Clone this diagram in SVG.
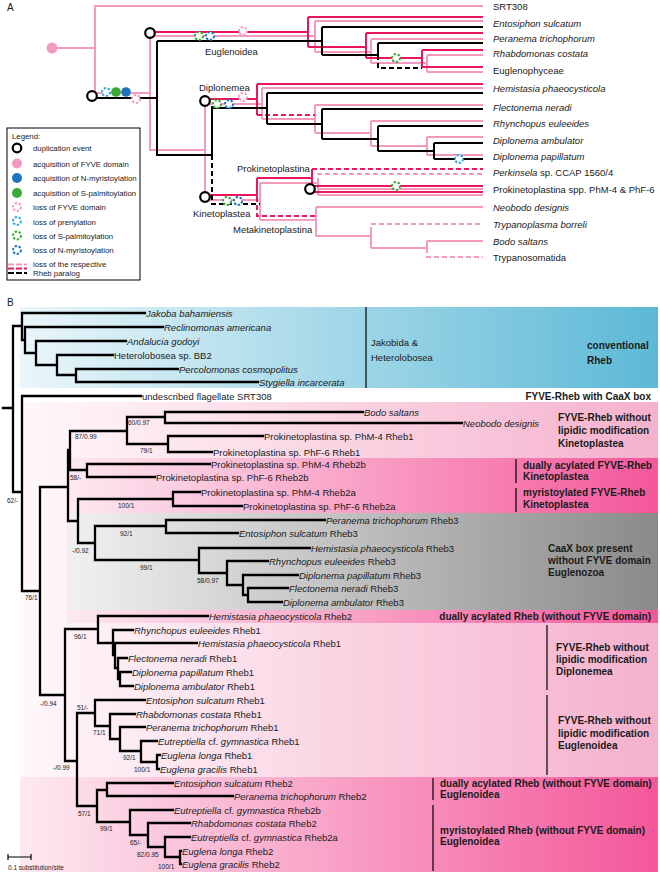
<svg xmlns="http://www.w3.org/2000/svg" width="660" height="876" viewBox="0 0 660 876">
<style>
text{font-family:"Liberation Sans",Arial,sans-serif;fill:#1a1a1a}
.lab{font-size:9.5px}
.i{font-style:italic}
.bs{font-size:6.5px}
.bold{font-size:10px;font-weight:bold}
.leg{font-size:7.8px}
.p{fill:none;stroke:#f49ac1;stroke-width:2}
.m{fill:none;stroke:#e8175d;stroke-width:2}
.k{fill:none;stroke:#000;stroke-width:2}
.d{stroke-dasharray:5 3}
.t{fill:none;stroke:#000;stroke-width:2.3;stroke-linecap:square}
.dup{fill:#fff;stroke:#000;stroke-width:2.2}
.ring{fill:#fff;stroke-width:2;stroke-dasharray:2.4 1.6}
.rp{stroke:#f49ac1}.rg{stroke:#3aaa35}.rb{stroke:#1c75bc}.rl{stroke:#29abe2}
.sep{stroke:#000;stroke-width:1.2}
</style>
<defs>
<linearGradient id="gBlue" x1="0" x2="1"><stop offset="0" stop-color="#eaf6fa"/><stop offset="1" stop-color="#5cb9d6"/></linearGradient>
<linearGradient id="gPinkL" x1="0" x2="1"><stop offset="0" stop-color="#fff8fb"/><stop offset="1" stop-color="#f5b1cc"/></linearGradient>
<linearGradient id="gPinkM" x1="0" x2="1"><stop offset="0" stop-color="#fde9f1"/><stop offset="1" stop-color="#f4579a"/></linearGradient>
<linearGradient id="gGrey" x1="0" x2="1"><stop offset="0" stop-color="#f1f1f1"/><stop offset="1" stop-color="#8a8a8a"/></linearGradient>
</defs>
<rect width="660" height="876" fill="#fff"/>

<!-- ================= PANEL A ================= -->
<g id="panelA">
<text x="7" y="11" style="font-size:10px">A</text>
<g id="connectorsA">
<!-- pink lineage (FYVE-Rheb) -->
<path class="p" d="M483,6 H95 V93 H150 M52,48 H95"/>
<path class="p" d="M150,36 V150 H205 M150,36 H315 M315,21 V52 M315,21 H483 M315,52 H371 M371,39 V63 M371,39 H483 M371,63 H427 M427,55 V72 M427,55 H483 M427,72 H483"/>
<path class="p" d="M205,101 V197 M205,104 H262 M262,88 V119 M262,88 H483 M262,119 H315 M315,105 V133 M315,105 H483 M315,133 H371 M371,121 V146 M371,121 H483 M371,146 H427 M427,137 V155 M427,137 H483 M427,155 H483"/>
<path class="p" d="M205,200 H260 M260,183 V220 M260,183 H318 V195 M318,195 H483 M318,189 H483 M260,220 H316 M316,207 V236 M316,207 H483 M316,236 H371 M371,232 V248 M371,248 H427 M427,241 V248 M427,241 H483"/>
<path class="p d" d="M318,183 V174 H483 M371,232 V224 H483 M427,248 V257 H483"/>
<!-- magenta lineage (Rheb2) -->
<path class="m" d="M150,32 H308 M308,17 V47 M308,17 H483 M308,47 H366 M366,33 V58 M366,33 H483 M366,58 H422 M422,50 V67 M422,50 H483 M422,67 H483"/>
<path class="m" d="M205,99 H257 M257,84 V115 M257,84 H483"/>
<path class="m d" d="M257,115 H315"/>
<path class="m" d="M205,195 H257 M257,178 V197 M257,178 H312 M312,169 V192 M312,186 H483 M312,192 H483"/>
<path class="m d" d="M257,197 V216 H315 M312,169 H483"/>
<!-- black lineage (Rheb3) -->
<path class="k" d="M97,98 H157 M157,41 V155 H212 M157,41 H322 M322,27 V55 M322,27 H483 M322,55 H378 M378,43 V55 M378,43 H483"/>
<path class="k d" d="M378,55 V68 H422"/>
<path class="k" d="M212,106 V155 M212,108 H267 M267,93 V124 M267,93 H483 M267,124 H322 M322,109 V139 M322,109 H483 M322,139 H378 M378,126 V151 M378,126 H483 M378,151 H434 M434,143 V159 M434,143 H483 M434,159 H483"/>
<path class="k d" d="M212,155 V204 H260"/>
</g>
<g id="eventsA">
<circle class="dup" cx="92" cy="96" r="4.8"/>
<circle class="dup" cx="150" cy="33" r="4.8"/>
<circle class="dup" cx="205" cy="101" r="4.8"/>
<circle class="dup" cx="205" cy="197" r="4.8"/>
<circle class="dup" cx="310" cy="189" r="4.8"/>
<circle cx="52" cy="48" r="5.5" fill="#f49ac1"/>
<circle class="ring rl" cx="106" cy="92" r="4"/>
<circle cx="116" cy="92" r="4.8" fill="#3aaa35"/>
<circle cx="126" cy="92" r="4.8" fill="#1c75bc"/>
<circle class="ring rp" cx="136" cy="99" r="4"/>
<circle class="ring rg" cx="199" cy="36" r="4"/>
<circle class="ring rb" cx="210" cy="36" r="4"/>
<circle class="ring rp" cx="243" cy="31" r="4"/>
<circle class="ring rg" cx="396" cy="58" r="4"/>
<circle class="ring rg" cx="217" cy="104" r="4"/>
<circle class="ring rb" cx="229" cy="104" r="4"/>
<circle class="ring rp" cx="243" cy="97" r="4"/>
<circle class="ring rl" cx="459" cy="159" r="4"/>
<circle class="ring rg" cx="227" cy="201" r="4"/>
<circle class="ring rb" cx="238" cy="201" r="4"/>
<circle class="ring rg" cx="396" cy="186" r="4"/>
</g>
<g id="cladesA">
<text class="lab" x="205" y="55">Euglenoidea</text>
<text class="lab" x="199" y="91">Diplonemea</text>
<text class="lab" x="237" y="172">Prokinetoplastina</text>
<text class="lab" x="193" y="217">Kinetoplastea</text>
<text class="lab" x="233" y="233">Metakinetoplastina</text>
</g>
<g id="taxaA">
<text class="lab" x="493" y="9.5">SRT308</text>
<text class="lab i" x="493" y="26.5">Entosiphon sulcatum</text>
<text class="lab i" x="493" y="41.5">Peranema trichophorum</text>
<text class="lab i" x="493" y="56.5">Rhabdomonas costata</text>
<text class="lab" x="493" y="73.5">Euglenophyceae</text>
<text class="lab i" x="493" y="91.5">Hemistasia phaeocysticola</text>
<text class="lab i" x="493" y="110.5">Flectonema neradi</text>
<text class="lab i" x="493" y="126.5">Rhynchopus euleeides</text>
<text class="lab i" x="493" y="143.5">Diplonema ambulator</text>
<text class="lab i" x="493" y="159.5">Diplonema papillatum</text>
<text class="lab" x="493" y="175.5"><tspan class="i">Perkinsela</tspan>  sp. CCAP 1560/4</text>
<text class="lab" x="493" y="192.5">Prokinetoplastina spp. PhM-4 &amp; PhF-6</text>
<text class="lab i" x="493" y="210.5">Neobodo designis</text>
<text class="lab i" x="493" y="227.5">Trypanoplasma borreli</text>
<text class="lab i" x="493" y="244.5">Bodo saltans</text>
<text class="lab" x="493" y="260.5">Trypanosomatida</text>
</g>
<g id="legend">
<rect x="7" y="128" width="133" height="152" fill="#fff" stroke="#000" stroke-width="1"/>
<text class="leg" x="12" y="139">Legend:</text>
<circle class="dup" cx="17" cy="148" r="4.3"/>
<circle cx="17" cy="163.5" r="5" fill="#f49ac1"/>
<circle cx="17" cy="178" r="5" fill="#1c75bc"/>
<circle cx="17" cy="193" r="5" fill="#3aaa35"/>
<circle class="ring rp" cx="17" cy="207" r="4"/>
<circle class="ring rl" cx="17" cy="221" r="4"/>
<circle class="ring rg" cx="17" cy="235.5" r="4"/>
<circle class="ring rb" cx="17" cy="250" r="4"/>
<path class="p" d="M8,264.5 H27" stroke-dasharray="6 2"/>
<path class="m" d="M8,268.5 H27" stroke-dasharray="6 2"/>
<path class="k" d="M8,273 H27" stroke-dasharray="6 2"/>
<text class="leg" x="33" y="151">duplication event</text>
<text class="leg" x="33" y="166.5">acquisition of FYVE domain</text>
<text class="leg" x="33" y="181">acquisition of N-myristoylation</text>
<text class="leg" x="33" y="196">acquisition of S-palmitoylation</text>
<text class="leg" x="33" y="210">loss of FYVE domain</text>
<text class="leg" x="33" y="224.5">loss of prenylation</text>
<text class="leg" x="33" y="239">loss of S-palmitoylation</text>
<text class="leg" x="33" y="253">loss of N-myristoylation</text>
<text class="leg" x="33" y="267">loss of the respective</text>
<text class="leg" x="33" y="276">Rheb paralog</text>
</g>
</g>

<!-- ================= PANEL B ================= -->
<g id="panelB">
<text x="7" y="306" style="font-size:10px">B</text>
<g id="backgrounds">
<rect x="20" y="307" width="638" height="81" fill="url(#gBlue)"/>
<rect x="20" y="402" width="638" height="470" fill="url(#gPinkL)"/>
<rect x="67" y="458" width="591" height="55" fill="url(#gPinkM)"/>
<rect x="67" y="513" width="591" height="97" fill="url(#gGrey)"/>
<rect x="67" y="610" width="591" height="13" fill="url(#gPinkM)"/>
<rect x="20" y="777" width="638" height="95" fill="url(#gPinkM)"/>
</g>
<g id="tree">
<path class="t" d="M3,408 H13 M13,326 V492 M13,326 H22 M13,492 H22
M22,313 V340 M22,313 H145 M22,340 H25 M25,327 V353 M25,327 H163 M25,353 H36 M36,341 V365 M36,341 H126 M36,365 H57 M57,355 V375 M57,355 H113 M57,375 H76 M76,369 V382 M76,369 H178 M76,382 H258
M22,396 V591 M22,396 H141 M22,591 H40
M40,487 V695 M40,487 H68 M40,695 H65
M68,450 V521 M68,450 H70 M68,521 H78
M70,431 V470 M70,431 H127 M70,470 H87
M127,417 V444 M127,417 H165 M127,444 H168
M165,412 V423 M165,412 H363 M165,423 H462
M168,436 V452 M168,436 H263 M168,452 H212
M87,464 V477 M87,464 H210 M87,477 H155
M78,499 V543 M78,499 H173 M78,543 H95
M173,492 V506 M173,492 H200 M173,506 H242
M95,526 V560 M95,526 H166 M95,560 H199
M166,520 V533 M166,520 H325 M166,533 H238
M199,548 V573 M199,548 H310 M199,573 H227
M227,561 V585 M227,561 H268 M227,585 H243
M243,575 V595 M243,575 H298 M243,595 H248
M248,588 V602 M248,588 H288 M248,602 H282
M65,629 V761 M65,629 H98 M65,761 H77
M98,616 V643 M98,616 H208 M98,643 H113
M113,630 V655 M113,630 H133 M113,655 H115
M115,643 V668 M115,643 H197 M115,668 H118
M118,658 V679 M118,658 H127 M118,679 H120
M120,672 V686 M120,672 H131 M120,686 H133
M77,713 V806 M77,713 H95 M77,806 H97
M95,700 V726 M95,700 H145 M95,726 H110
M110,714 V739 M110,714 H135 M110,739 H120
M120,727 V751 M120,727 H145 M120,751 H141
M141,741 V762 M141,741 H157 M141,762 H157
M157,755 V769 M157,755 H160 M157,769 H159
M97,790 V822 M97,790 H107 M97,822 H130
M107,783 V796 M107,783 H173 M107,796 H233
M130,810 V835 M130,810 H173 M130,835 H148
M148,823 V847 M148,823 H190 M148,847 H165
M165,837 V857 M165,837 H190 M165,857 H180
M180,851 V864 M180,851 H181 M180,864 H181"/>
</g>
<g id="leavesB">
<text class="lab i" x="146" y="316.5">Jakoba bahamiensis</text>
<text class="lab i" x="164" y="330.5">Reclinomonas americana</text>
<text class="lab i" x="127" y="344.5">Andalucia godoyi</text>
<text class="lab" x="114" y="358.5">Heterolobosea sp. BB2</text>
<text class="lab i" x="179" y="372.5">Percolomonas cosmopolitus</text>
<text class="lab i" x="259" y="385.5">Stygiella incarcerata</text>
<text class="lab" x="142" y="399.5">undescribed flagellate SRT308</text>
<text class="lab i" x="364" y="415.5">Bodo saltans</text>
<text class="lab i" x="463" y="426.5">Neobodo designis</text>
<text class="lab" x="264" y="439.5">Prokinetoplastina sp. PhM-4 Rheb1</text>
<text class="lab" x="213" y="455.5">Prokinetoplastina sp. PhF-6 Rheb1</text>
<text class="lab" x="211" y="467.5">Prokinetoplastina sp. PhM-4 Rheb2b</text>
<text class="lab" x="156" y="480.5">Prokinetoplastina sp. PhF-6 Rheb2b</text>
<text class="lab" x="201" y="495.5">Prokinetoplastina sp. PhM-4 Rheb2a</text>
<text class="lab" x="243" y="509.5">Prokinetoplastina sp. PhF-6 Rheb2a</text>
<text class="lab" x="326" y="523.5"><tspan class="i">Peranema trichophorum</tspan> Rheb3</text>
<text class="lab" x="239" y="536.5"><tspan class="i">Entosiphon sulcatum</tspan> Rheb3</text>
<text class="lab" x="311" y="551.5"><tspan class="i">Hemistasia phaeocysticola</tspan> Rheb3</text>
<text class="lab" x="269" y="564.5"><tspan class="i">Rhynchopus euleeides</tspan> Rheb3</text>
<text class="lab" x="299" y="578.5"><tspan class="i">Diplonema papillatum</tspan> Rheb3</text>
<text class="lab" x="289" y="591.5"><tspan class="i">Flectonema neradi</tspan> Rheb3</text>
<text class="lab" x="283" y="605.5"><tspan class="i">Diplonema ambulator</tspan> Rheb3</text>
<text class="lab" x="209" y="619.5"><tspan class="i">Hemistasia phaeocysticola</tspan> Rheb2</text>
<text class="lab" x="134" y="633.5"><tspan class="i">Rhynchopus euleeides</tspan> Rheb1</text>
<text class="lab" x="198" y="646.5"><tspan class="i">Hemistasia phaeocysticola</tspan> Rheb1</text>
<text class="lab" x="128" y="661.5"><tspan class="i">Flectonema neradi</tspan> Rheb1</text>
<text class="lab" x="132" y="675.5"><tspan class="i">Diplonema papillatum</tspan> Rheb1</text>
<text class="lab" x="134" y="689.5"><tspan class="i">Diplonema ambulator</tspan> Rheb1</text>
<text class="lab" x="146" y="703.5"><tspan class="i">Entosiphon sulcatum</tspan> Rheb1</text>
<text class="lab" x="136" y="717.5"><tspan class="i">Rhabdomonas costata</tspan> Rheb1</text>
<text class="lab" x="146" y="730.5"><tspan class="i">Peranema trichophorum</tspan> Rheb1</text>
<text class="lab" x="158" y="744.5"><tspan class="i">Eutreptiella</tspan> cf. <tspan class="i">gymnastica</tspan> Rheb1</text>
<text class="lab" x="161" y="758.5"><tspan class="i">Euglena longa</tspan> Rheb1</text>
<text class="lab" x="160" y="772.5"><tspan class="i">Euglena gracilis</tspan> Rheb1</text>
<text class="lab" x="174" y="786.5"><tspan class="i">Entosiphon sulcatum</tspan> Rheb2</text>
<text class="lab" x="234" y="799.5"><tspan class="i">Peranema trichophorum</tspan> Rheb2</text>
<text class="lab" x="174" y="813.5"><tspan class="i">Eutreptiella</tspan> cf. <tspan class="i">gymnastica</tspan> Rheb2b</text>
<text class="lab" x="191" y="826.5"><tspan class="i">Rhabdomonas costata</tspan> Rheb2</text>
<text class="lab" x="191" y="840.5"><tspan class="i">Eutreptiella</tspan> cf. <tspan class="i">gymnastica</tspan> Rheb2a</text>
<text class="lab" x="182" y="854.5"><tspan class="i">Euglena longa</tspan> Rheb2</text>
<text class="lab" x="182" y="867.5"><tspan class="i">Euglena gracilis</tspan> Rheb2</text>
</g>
<g id="supportB">
<text class="bs" x="7" y="503">62/-</text>
<text class="bs" x="25" y="600">76/1</text>
<text class="bs" x="75" y="439">87/0.99</text>
<text class="bs" x="128" y="425">60/0.97</text>
<text class="bs" x="140" y="453">79/1</text>
<text class="bs" x="70" y="480">58/-</text>
<text class="bs" x="118" y="508">100/1</text>
<text class="bs" x="120" y="536">92/1</text>
<text class="bs" x="72" y="553">-/0.92</text>
<text class="bs" x="140" y="570">99/1</text>
<text class="bs" x="197" y="583">58/0.97</text>
<text class="bs" x="74" y="639">96/1</text>
<text class="bs" x="40" y="706">-/0.94</text>
<text class="bs" x="77" y="710">51/-</text>
<text class="bs" x="93" y="735">71/1</text>
<text class="bs" x="123" y="760">92/1</text>
<text class="bs" x="134" y="772">100/1</text>
<text class="bs" x="53" y="770">-/0.99</text>
<text class="bs" x="78" y="816">57/1</text>
<text class="bs" x="100" y="831">99/1</text>
<text class="bs" x="130" y="845">65/-</text>
<text class="bs" x="137" y="857">82/0.95</text>
<text class="bs" x="158" y="869">100/1</text>
</g>
<g id="groupsB">
<line class="sep" x1="366" y1="307" x2="366" y2="388"/>
<text class="lab" x="371" y="346">Jakobida &amp;</text>
<text class="lab" x="371" y="361">Heterolobosea</text>
<text class="bold" x="587" y="349">conventional</text>
<text class="bold" x="587" y="364">Rheb</text>
<text class="bold" x="651" y="400" text-anchor="end">FYVE-Rheb with CaaX box</text>
<text class="bold" x="558" y="421">FYVE-Rheb without</text>
<text class="bold" x="558" y="434">lipidic modification</text>
<text class="bold" x="558" y="447">Kinetoplastea</text>
<line class="sep" x1="516" y1="459" x2="516" y2="483"/>
<text class="bold" x="523" y="469">dually acylated FYVE-Rheb</text>
<text class="bold" x="523" y="480">Kinetoplastea</text>
<line class="sep" x1="516" y1="488" x2="516" y2="512"/>
<text class="bold" x="523" y="496">myristoylated FYVE-Rheb</text>
<text class="bold" x="523" y="508">Kinetoplastea</text>
<text class="bold" x="548" y="552">CaaX box present</text>
<text class="bold" x="548" y="564">without FYVE domain</text>
<text class="bold" x="548" y="576">Euglenozoa</text>
<text class="bold" x="651" y="620" text-anchor="end">dually acylated Rheb (without FYVE domain)</text>
<line class="sep" x1="547" y1="625" x2="547" y2="690"/>
<text class="bold" x="556" y="651">FYVE-Rheb without</text>
<text class="bold" x="556" y="663">lipidic modification</text>
<text class="bold" x="556" y="675">Diplonemea</text>
<line class="sep" x1="547" y1="695" x2="547" y2="775"/>
<text class="bold" x="558" y="724">FYVE-Rheb without</text>
<text class="bold" x="558" y="737">lipidic modification</text>
<text class="bold" x="558" y="749">Euglenoidea</text>
<line class="sep" x1="433" y1="778" x2="433" y2="800"/>
<text class="bold" x="440" y="787">dually acylated Rheb (without FYVE domain)</text>
<text class="bold" x="440" y="798">Euglenoidea</text>
<line class="sep" x1="433" y1="805" x2="433" y2="871"/>
<text class="bold" x="440" y="834">myristoylated Rheb (without FYVE domain)</text>
<text class="bold" x="440" y="845">Euglenoidea</text>
</g>
<g id="scalebar">
<path d="M8,857 H31 M8,854 V860 M31,854 V860" stroke="#000" stroke-width="1.2" fill="none"/>
<text class="bs" x="8" y="870">0.1 substitution/site</text>
</g>
</g>
</svg>
